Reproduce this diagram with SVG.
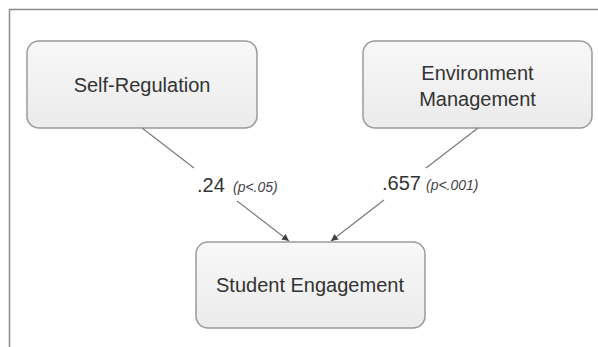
<svg xmlns="http://www.w3.org/2000/svg" width="598" height="347" viewBox="0 0 598 347">
  <style>
    .box { fill: url(#boxfill); stroke: #9a9a9a; stroke-width: 1.5; }
    .lbl { font-family: "Liberation Sans", Arial, sans-serif; font-size: 20px; fill: #333; }
    .coef { font-family: "Liberation Sans", Arial, sans-serif; font-size: 20px; fill: #333; }
    .p { font-family: "Liberation Sans", Arial, sans-serif; font-size: 14px; font-style: italic; fill: #444; }
    .conn { stroke: #7a7a7a; stroke-width: 1.2; fill: none; }
    .frame { stroke: #8a8a8a; stroke-width: 1.5; fill: none; }
  </style>
  <defs>
    <linearGradient id="boxfill" x1="0" y1="0" x2="0" y2="1">
      <stop offset="0" stop-color="#f8f8f8"/>
      <stop offset="1" stop-color="#ebebeb"/>
    </linearGradient>
    <marker id="arrow" viewBox="0 0 10 10" refX="10" refY="5" markerWidth="7" markerHeight="7" markerUnits="userSpaceOnUse" orient="auto">
      <path d="M0,0 L10,5 L0,10 z" fill="#444"/>
    </marker>
  </defs>
  <rect width="598" height="347" fill="#ffffff"/>
  <path class="frame" d="M9.5,347 V9.5 H598"/>

  <g id="self-regulation">
    <rect class="box" x="27" y="41" width="230" height="87" rx="12" ry="12"/>
    <text class="lbl" x="142" y="92" text-anchor="middle">Self-Regulation</text>
  </g>
  <g id="environment-management">
    <rect class="box" x="363" y="41" width="229" height="87" rx="12" ry="12"/>
    <text class="lbl" x="477.5" y="80" text-anchor="middle">Environment</text>
    <text class="lbl" x="477.5" y="106" text-anchor="middle">Management</text>
  </g>
  <g id="student-engagement">
    <rect class="box" x="196" y="242" width="229" height="86" rx="12" ry="12"/>
    <text class="lbl" x="310" y="292" text-anchor="middle">Student Engagement</text>
  </g>

  <g id="connectors">
    <line class="conn" x1="142" y1="128" x2="194" y2="168"/>
    <line class="conn" x1="237" y1="201" x2="289" y2="241" marker-end="url(#arrow)"/>
    <line class="conn" x1="478" y1="128" x2="426" y2="168"/>
    <line class="conn" x1="384" y1="200" x2="331" y2="241" marker-end="url(#arrow)"/>
    <text class="coef" x="197" y="192">.24</text>
    <text class="p" x="233" y="192">(p&lt;.05)</text>
    <text class="coef" x="382" y="190">.657</text>
    <text class="p" x="426" y="190">(p&lt;.001)</text>
  </g>
</svg>
